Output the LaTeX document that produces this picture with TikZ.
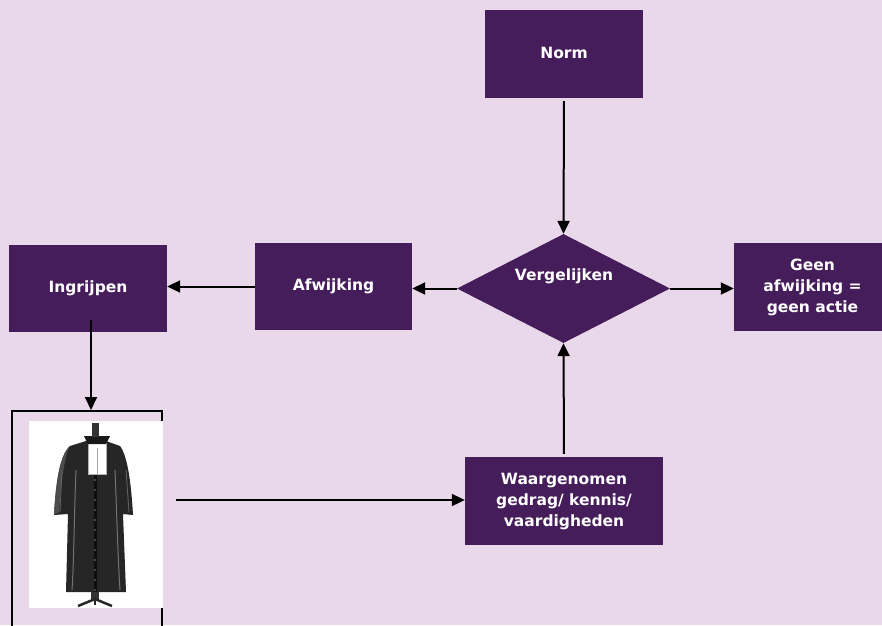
\documentclass[tikz,border=0pt]{standalone}
\usepackage{fontspec}
\setmainfont{DejaVu Sans}
\usetikzlibrary{shapes.geometric,arrows.meta,calc}
\definecolor{bgcol}{RGB}{233,215,234}
\definecolor{boxcol}{RGB}{70,29,91}
\begin{document}
\begin{tikzpicture}[x=1pt,y=-1pt,
  boxstyle/.style={rectangle, fill=boxcol, inner sep=0pt, text=white, align=center,
    font=\fontsize{15.5}{21}\selectfont\bfseries},
  arr/.style={-{Triangle[length=13pt,width=12pt]}, line width=2pt, black},
  txt/.style={text=white, font=\fontsize{15.5}{21}\selectfont\bfseries, align=center}]
\useasboundingbox (0,0) rectangle (882,625);
\fill[bgcol] (0,0) rectangle (882,625);
% boxes
\node[boxstyle, minimum width=158pt, minimum height=88pt] (norm) at (564,54) {\raisebox{3pt}{Norm}};
\node[diamond, fill=boxcol, inner sep=0pt, aspect=1.95, minimum width=213pt, minimum height=109pt] (verg) at (563.5,288.5) {};
\node[txt] (vergt) at (564,276) {Vergelijken};
\node[boxstyle, minimum width=157pt, minimum height=87pt] (afw) at (333.5,286.5) {\raisebox{3pt}{Afwijking}};
\node[boxstyle, minimum width=158pt, minimum height=87pt] (ingr) at (88,288.5) {\raisebox{3pt}{Ingrijpen}};
\node[boxstyle, minimum width=157pt, minimum height=88pt] (geen) at (812.5,287) {\raisebox{4pt}{\begin{tabular}{@{}c@{}}Geen\\afwijking =\\geen actie\end{tabular}}};
\node[boxstyle, minimum width=198pt, minimum height=88pt] (waar) at (564,501) {\raisebox{5pt}{\begin{tabular}{@{}c@{}}Waargenomen\\gedrag/ kennis/\\vaardigheden\end{tabular}}};
% frame with picture
\node[draw=black, line width=2pt, minimum width=150pt, minimum height=240pt, inner sep=0pt] (frame) at (87,531) {};
\node[fill=white, minimum width=134pt, minimum height=187pt, inner sep=0pt] (robe) at (96,514.5) {};
% robe drawing
\begin{scope}
\fill[black!85] (86,441) -- (70,446) .. controls (60,455) and (56,480) .. (54,515) -- (68,514) -- (66,592) -- (126,592) -- (123,514) -- (133,515) .. controls (131,480) and (127,455) .. (120,446) -- (106,441) -- cycle;
\fill[black!70] (70,446) .. controls (65,455) and (61,480) .. (59,512) -- (54,515) .. controls (56,480) and (60,455) .. (70,446) -- cycle;
\draw[black!55, line width=1pt] (76,470) .. controls (74,520) and (74,560) .. (72,590);
\draw[black!55, line width=1pt] (115,470) .. controls (117,520) and (118,560) .. (120,590);
\draw[black!60, line width=0.8pt] (62,470) -- (60,512);
\draw[black!60, line width=0.8pt] (126,470) -- (129,512);
\draw[black!95, line width=3pt] (95,474) -- (95,592);
\foreach \yy in {480,490,...,590} \fill[black!50] (95,\yy) circle (0.9pt);
\fill[white] (88,441) -- (106,441) -- (106,474) -- (88,474) -- cycle;
\draw[black!30, line width=0.5pt] (88,441) -- (88,474) -- (106,474) -- (106,441);
\draw[black!35, line width=0.6pt] (97,448) -- (97,474);
\fill[black!90] (84,436) -- (110,436) -- (106,444) -- (88,444) -- cycle;
\fill[black!80] (92,423) rectangle (99,437);
\fill[black!80] (91,592) rectangle (99,601);
\draw[black!85, line width=2.5pt] (78,606) -- (95,599) -- (112,606);
\draw[black!85, line width=2pt] (95,599) -- (95,605);
\end{scope}
% connectors
\coordinate (ia) at (91,320);
\coordinate (ra) at (176,500);
\draw[arr, shorten <=3pt] (norm.south) -- (verg.north);
\draw[arr, shorten <=3pt] (waar.north) -- (verg.south);
\draw[arr] (verg.west) -- (verg.west -| afw.east);
\draw[arr] (afw.west) -- (afw.west -| ingr.east);
\draw[arr] (verg.east) -- (verg.east -| geen.west);
\draw[arr] (ia) -- (ia |- frame.north);
\draw[arr] (ra) -- (ra -| waar.west);
\end{tikzpicture}
\end{document}
